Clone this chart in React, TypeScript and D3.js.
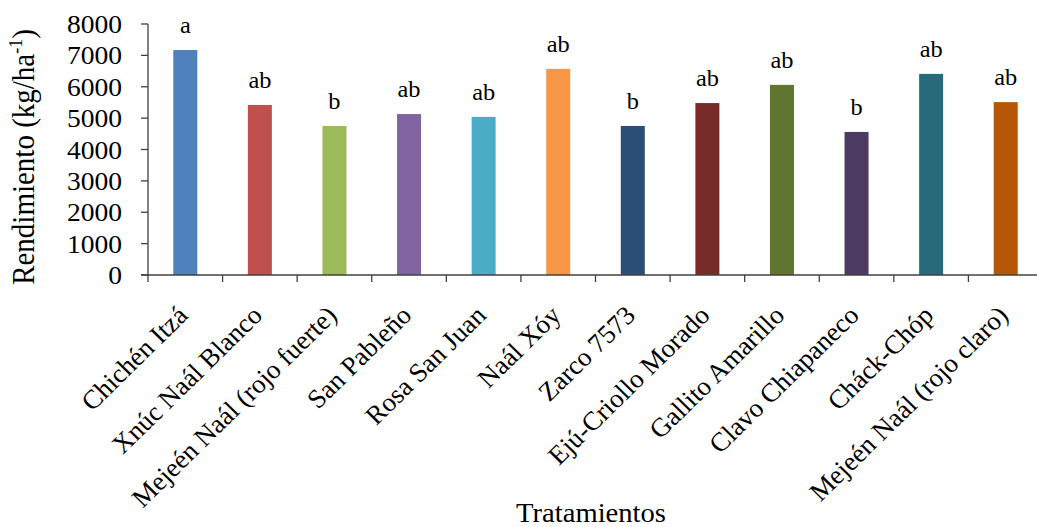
import React from "react";
import * as d3 from "d3";

const categories = [
  "Chichén Itzá",
  "Xnúc  Naál Blanco",
  "Mejeén Naál (rojo fuerte)",
  "San Pableño",
  "Rosa San Juan",
  "Naál Xóy",
  "Zarco 7573",
  "Ejú-Criollo Morado",
  "Gallito Amarillo",
  "Clavo Chiapaneco",
  "Cháck-Chóp",
  "Mejeén Naál (rojo claro)",
];
const values = [7170, 5420, 4750, 5130, 5040, 6570, 4750, 5480, 6060, 4560, 6410, 5510];
const letters = ["a", "ab", "b", "ab", "ab", "ab", "b", "ab", "ab", "b", "ab", "ab"];
const colors = [
  "#4F81BD", "#C0504D", "#9BBB59", "#8064A2", "#4BACC6", "#F79646",
  "#2C4D75", "#772C2A", "#5F7530", "#4D3B62", "#276A7C", "#B65708",
];
const yTicks = [0, 1000, 2000, 3000, 4000, 5000, 6000, 7000, 8000];

const FONT = "Liberation Serif";
const SX = 1.06; // horizontal stretch of the reference text

export default function App() {
  const W = 1037, H = 527;
  const left = 148, right = 1043, top = 24, bottom = 275;
  const x = d3.scaleBand<string>().domain(categories).range([left, right]).paddingInner(0).paddingOuter(0);
  const y = d3.scaleLinear().domain([0, 8000]).range([bottom, top]);
  const bw = 24;
  const axisColor = "#404040";
  const boundaries = categories.map((c) => x(c) as number);

  return (
    <svg width={W} height={H} style={{ position: "absolute", left: 0, top: 0 }}>
      <rect width={W} height={H} fill="#fff" />
      {categories.map((c, i) => {
        const cx = (x(c) as number) + x.bandwidth() / 2;
        return (
          <g key={c}>
            <rect x={cx - bw / 2} y={y(values[i])} width={bw} height={bottom - y(values[i])} fill={colors[i]} />
            <text
              transform={`translate(${cx},${y(values[i]) - 17}) scale(${SX},1)`}
              textAnchor="middle"
              fontSize={23}
              fontFamily={FONT}
              fill="#000"
            >
              {letters[i]}
            </text>
            <text
              transform={`translate(${cx + 4},${bottom + 42}) scale(1.02,1) rotate(-45)`}
              textAnchor="end"
              fontSize={26.5}
              fontFamily={FONT}
              fill="#000"
            >
              {c}
            </text>
          </g>
        );
      })}
      {/* y axis */}
      <line x1={left} x2={left} y1={top} y2={bottom} stroke={axisColor} strokeWidth={1.3} />
      {yTicks.map((t) => (
        <g key={t}>
          <line x1={left - 7} x2={left} y1={y(t)} y2={y(t)} stroke={axisColor} strokeWidth={1.3} />
          <text
            transform={`translate(${left - 26},${y(t)}) scale(${SX},1)`}
            dy="0.35em"
            textAnchor="end"
            fontSize={26}
            fontFamily={FONT}
            fill="#000"
          >
            {t}
          </text>
        </g>
      ))}
      {/* x axis */}
      <line x1={left - 7} x2={right} y1={bottom} y2={bottom} stroke={axisColor} strokeWidth={1.3} />
      {boundaries.map((b, i) => (
        <line key={i} x1={b} x2={b} y1={bottom} y2={bottom + 7} stroke={axisColor} strokeWidth={1.3} />
      ))}
      <text
        transform={`translate(34,157) scale(${SX},1) rotate(-90)`}
        textAnchor="middle"
        fontSize={29}
        fontFamily={FONT}
        fill="#000"
      >
        Rendimiento (kg/ha
        <tspan fontSize={18} dy={-11}>-1</tspan>
        <tspan dy={11}>)</tspan>
      </text>
      <text
        transform={`translate(591,522) scale(${SX},1)`}
        textAnchor="middle"
        fontSize={27}
        fontFamily={FONT}
        fill="#000"
      >
        Tratamientos
      </text>
    </svg>
  );
}
